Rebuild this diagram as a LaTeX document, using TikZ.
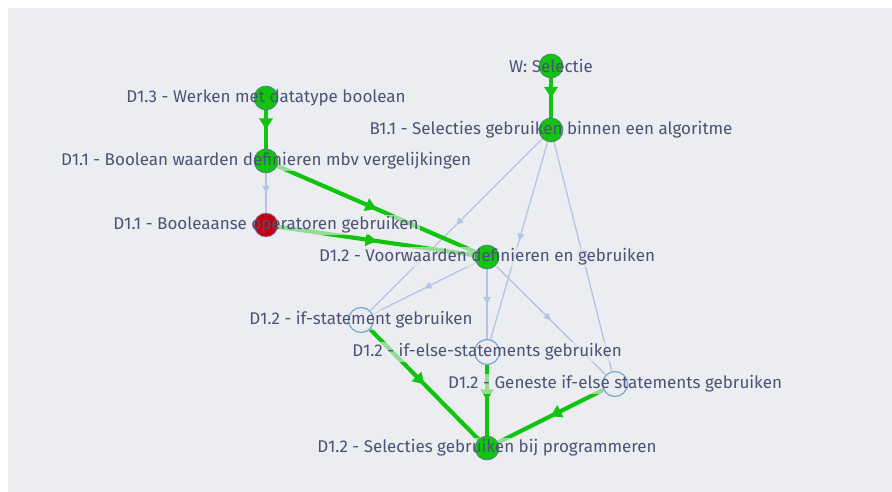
\documentclass[tikz,border=0pt]{standalone}
\usepackage{fontspec}
\setmainfont{Fira Sans}
\usepackage{tikz}
\usetikzlibrary{arrows.meta,decorations.markings,positioning}

\definecolor{panel}{HTML}{ECEDF0}
\definecolor{labeltext}{HTML}{4A5377}
\definecolor{okgreen}{HTML}{10C410}
\definecolor{failred}{HTML}{C2000E}
\definecolor{weakedge}{HTML}{B4C4E6}
\definecolor{ring}{HTML}{78A4D4}

\pgfdeclarelayer{edges}
\pgfdeclarelayer{halo}
\pgfdeclarelayer{texts}
\pgfsetlayers{edges,halo,main,texts}

\tikzset{
  okdot/.style={circle, fill=okgreen, draw=ring!70!black, line width=0.6pt, minimum size=24pt, inner sep=0pt},
  faildot/.style={circle, fill=failred, draw=ring, line width=0.6pt, minimum size=24pt, inner sep=0pt},
  opendot/.style={circle, draw=ring, line width=1.2pt, minimum size=25pt, inner sep=0pt},
  lbl/.style={text=labeltext, inner sep=1.5pt, font=\fontsize{17}{19}\selectfont},
  strong/.style={draw=okgreen, line width=4.2pt, postaction={decorate},
    decoration={markings, mark=at position 0.5 with {\arrow[okgreen]{Triangle[length=11pt,width=13pt]}}}},
  weak/.style={draw=weakedge, line width=1.3pt, postaction={decorate},
    decoration={markings, mark=at position 0.5 with {\arrow[weakedge]{Triangle[length=7pt,width=7pt]}}}},
}

\begin{document}
\begin{tikzpicture}[x=1pt, y=-1pt]
    \useasboundingbox (0,0) rectangle (892,492);
    \begin{pgfonlayer}{edges}
      \fill[white] (0,0) rectangle (892,492);
      \fill[panel] (8,8) rectangle (892,492);
    \end{pgfonlayer}

    % dots
    \node [okdot] (wsel) at (551,66) {};
    \node [okdot] (b11) at (551,130) {};
    \node [okdot] (d13) at (266,98) {};
    \node [okdot] (d11w) at (266,161) {};
    \node [faildot] (d11op) at (266,225) {};
    \node [okdot] (d12vw) at (487,257) {};
    \node [opendot] (d12if) at (361,320) {};
    \node [opendot] (d12ife) at (487,352) {};
    \node [opendot] (d12gen) at (615,384) {};
    \node [okdot] (d12sel) at (487,448) {};

    % connections
    \begin{pgfonlayer}{edges}
      \draw [weak] (d11w) -- (d11op);
      \draw [weak] (b11) -- (d12if);
      \draw [weak] (b11) -- (d12ife);
      \draw [weak] (b11) -- (d12gen);
      \draw [weak] (d12vw) -- (d12if);
      \draw [weak] (d12vw) -- (d12ife);
      \draw [weak] (d12vw) -- (d12gen);
      \draw [strong] (wsel) -- (b11);
      \draw [strong] (d13) -- (d11w);
      \draw [strong] (d11w) -- (d12vw);
      \draw [strong] (d11op) -- (d12vw);
      \draw [strong] (d12if) -- (d12sel);
      \draw [strong] (d12ife) -- (d12sel);
      \draw [strong] (d12gen) -- (d12sel);
    \end{pgfonlayer}

    % labels
    \begin{pgfonlayer}{texts}
      \node [lbl] (wsel-l) at (wsel) {W: Selectie};
      \node [lbl] (b11-l) at (b11) {B1.1 - Selecties gebruiken binnen een algoritme};
      \node [lbl] (d13-l) at (d13) {D1.3 - Werken met datatype boolean};
      \node [lbl] (d11w-l) at (d11w) {D1.1 - Boolean waarden definieren mbv vergelijkingen};
      \node [lbl] (d11op-l) at (d11op) {D1.1 - Booleaanse operatoren gebruiken};
      \node [lbl] (d12vw-l) at (d12vw) {D1.2 - Voorwaarden definieren en gebruiken};
      \node [lbl] (d12if-l) at (d12if) {D1.2 - if-statement gebruiken};
      \node [lbl] (d12ife-l) at (d12ife) {D1.2 - if-else-statements gebruiken};
      \node [lbl] (d12gen-l) at (d12gen) {D1.2 - Geneste if-else statements gebruiken};
      \node [lbl] (d12sel-l) at (d12sel) {D1.2 - Selecties gebruiken bij programmeren};
    \end{pgfonlayer}

    % soft halo behind the labels
    \begin{pgfonlayer}{halo}
      \foreach \l in {wsel-l,b11-l,d13-l,d11w-l,d11op-l,d12vw-l,d12if-l,d12ife-l,d12gen-l,d12sel-l}
        \fill [panel, opacity=0.6] (\l.south west) rectangle (\l.north east);
    \end{pgfonlayer}
\end{tikzpicture}
\end{document}
